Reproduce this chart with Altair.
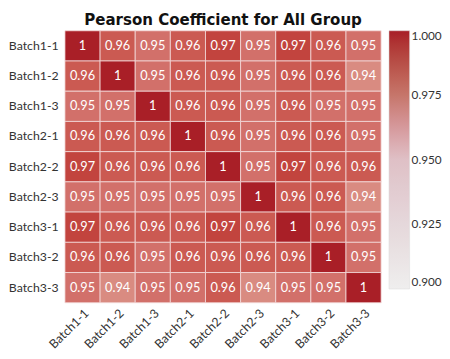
import altair as alt
import pandas as pd

labels = ["Batch1-1", "Batch1-2", "Batch1-3", "Batch2-1", "Batch2-2",
          "Batch2-3", "Batch3-1", "Batch3-2", "Batch3-3"]

row_1 = [1.00, 0.96, 0.95, 0.96, 0.97, 0.95, 0.97, 0.96, 0.95]
row_2 = [0.96, 1.00, 0.95, 0.96, 0.96, 0.95, 0.96, 0.96, 0.94]
row_3 = [0.95, 0.95, 1.00, 0.96, 0.96, 0.95, 0.96, 0.95, 0.95]
row_4 = [0.96, 0.96, 0.96, 1.00, 0.96, 0.95, 0.96, 0.96, 0.95]
row_5 = [0.97, 0.96, 0.96, 0.96, 1.00, 0.95, 0.97, 0.96, 0.96]
row_6 = [0.95, 0.95, 0.95, 0.95, 0.95, 1.00, 0.96, 0.96, 0.94]
row_7 = [0.97, 0.96, 0.96, 0.96, 0.97, 0.96, 1.00, 0.96, 0.95]
row_8 = [0.96, 0.96, 0.95, 0.96, 0.96, 0.96, 0.96, 1.00, 0.95]
row_9 = [0.95, 0.94, 0.95, 0.95, 0.96, 0.94, 0.95, 0.95, 1.00]
rows = [row_1, row_2, row_3, row_4, row_5, row_6, row_7, row_8, row_9]

legend_ticks = [0.900, 0.925, 0.950, 0.975, 1.000]

records = []
for i, r in enumerate(rows):
    for j, v in enumerate(r):
        records.append({"row": labels[i], "col": labels[j], "v": v,
                        "txt": "1" if v == 1 else f"{v:.2f}"})
df = pd.DataFrame(records)
leg_df = pd.DataFrame({"lv": legend_ticks})

x = alt.X("col:N", sort=labels, title=None,
          axis=alt.Axis(labelAngle=-45, labelFontSize=12.5, labelColor="#333333",
                        labelFont="Lato", ticks=False, domain=False, labelPadding=4))
y = alt.Y("row:N", sort=labels, title=None,
          axis=alt.Axis(labelFontSize=12.5, labelColor="#333333", labelFont="Lato",
                        ticks=False, domain=False, labelPadding=7))

cells = alt.Chart(df).mark_rect(stroke="#f4dcdc", strokeWidth=0.8).encode(
    x=x, y=y,
    color=alt.Color("v:Q", legend=None,
                    scale=alt.Scale(domain=[0.94, 0.95, 0.96, 0.97, 1.0],
                                    range=["#d98b81", "#d2706a", "#cb5a52", "#c2443e", "#a91f27"]))
)

text = alt.Chart(df).mark_text(color="white", fontSize=13, font="Lato").encode(
    x=alt.X("col:N", sort=labels), y=alt.Y("row:N", sort=labels), text="txt:N"
)

legend_layer = alt.Chart(leg_df).mark_point(opacity=0).encode(
    color=alt.Color("lv:Q",
                    scale=alt.Scale(domain=legend_ticks,
                                    range=["#efeeee", "#e5d8db", "#dfc0c6", "#c6766b", "#a81e27"]),
                    legend=alt.Legend(title=None, format=".3f", gradientLength=263,
                                      gradientThickness=21, labelFontSize=12,
                                      labelFont="Lato", labelColor="#333333",
                                      values=legend_ticks, offset=8,
                                      gradientStrokeColor="#dddddd", gradientStrokeWidth=0.5,
                                      tickCount=5))
)

chart = alt.layer(cells, text, legend_layer).resolve_scale(color="independent").properties(
    width=322, height=277,
    padding={"left": 0, "top": 0, "right": 0, "bottom": 0},
    title=alt.Title("Pearson Coefficient for All Group", font="DejaVu Sans Condensed",
                    fontSize=17, fontWeight="bold", color="#111111", offset=1)
).configure_view(stroke=None)

chart.save("out.html", embed_options={"renderer": "svg", "actions": False})
